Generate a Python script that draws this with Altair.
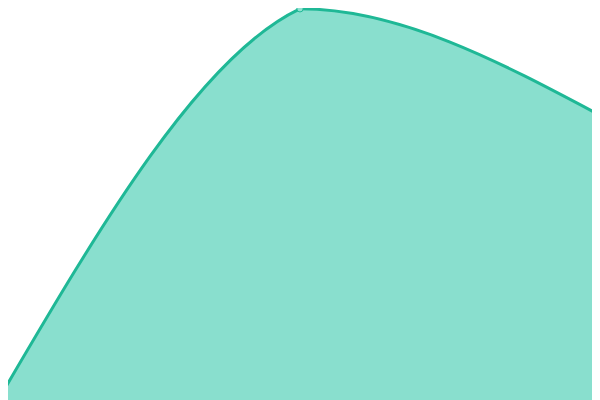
import altair as alt
import pandas as pd

xs = [0, 1, 2]
ys = [0.8, 97.8, 71.2]

df = pd.DataFrame({"x": xs, "y": ys})

FILL = "#89dfce"
LINE = "#1fb896"

yenc = alt.Y("y:Q", axis=None, scale=alt.Scale(domain=[0, 100], range=[392, -8], nice=False))


def panel(interp, dom, rng):
    return (
        alt.Chart(df)
        .mark_area(
            interpolate=interp,
            color=FILL,
            opacity=1,
            clip=True,
            line={"color": LINE, "strokeWidth": 3, "clip": True},
            point={"filled": True, "fill": "#8fe1d0", "stroke": LINE, "strokeWidth": 1, "size": 40, "clip": True},
        )
        .encode(
            x=alt.X("x:Q", axis=None, scale=alt.Scale(domain=dom, range=rng, nice=False, zero=False)),
            y=yenc,
        )
        .properties(width=292, height=392)
    )


left = panel("natural", [0, 1], [-8, 292])
right = panel("monotone", [1, 2], [0, 300])

chart = (
    alt.hconcat(left, right, spacing=0)
    .resolve_scale(x="independent")
    .properties(padding=0, background="white")
    .configure_view(strokeWidth=0)
    .configure_concat(spacing=0)
)

chart.save("out.html", embed_options={"renderer": "svg", "actions": False})
